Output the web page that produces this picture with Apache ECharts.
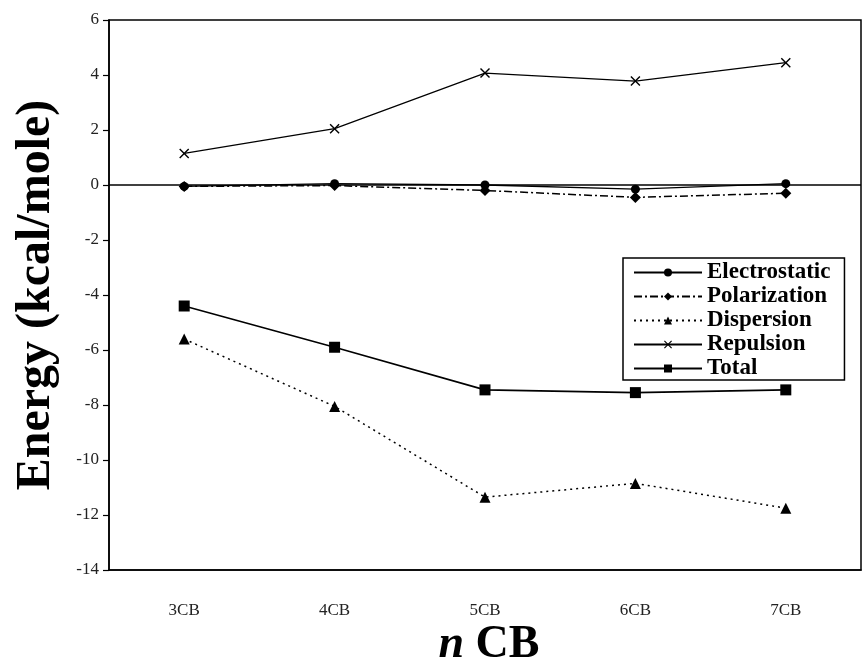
<!DOCTYPE html>
<html>
<head>
<meta charset="utf-8">
<script src="https://cdn.jsdelivr.net/npm/echarts@6/dist/echarts.min.js"></script>
<style>html,body{margin:0;padding:0;background:#fff;}#c{width:863px;height:668px;}</style>
</head>
<body>
<div id="c"></div>
<script>
const categories = ['3CB', '4CB', '5CB', '6CB', '7CB'];
const electrostatic = [-0.05, 0.05, 0.0, -0.15, 0.05];
const polarization = [-0.05, -0.02, -0.2, -0.45, -0.3];
const dispersion = [-5.6, -8.05, -11.35, -10.85, -11.75];
const repulsion = [1.15, 2.05, 4.07, 3.78, 4.45];
const total = [-4.4, -5.9, -7.45, -7.55, -7.45];
const yTicks = { min: -14, max: 6, interval: 2 };

const SERIF = '"Liberation Serif", "DejaVu Serif", serif';
const xPath = 'path://M0,1 L1,0 L5,4 L9,0 L10,1 L6,5 L10,9 L9,10 L5,6 L1,10 L0,9 L4,5 Z';

function mk(name, data, symbol, size, type, width, z) {
  return {
    name, type: 'line', data, symbol, symbolSize: size, z: z,
    showSymbol: true,
    lineStyle: { color: '#000', width: width, type: type },
    itemStyle: { color: '#000' },
    emphasis: { disabled: true },
    animation: false
  };
}

const series = [
  mk('Electrostatic', electrostatic, 'circle', 9, 'solid', 1.5, 6),
  mk('Polarization', polarization, 'diamond', 11, [8, 3, 2, 3], 1.5, 5),
  mk('Dispersion', dispersion, 'triangle', 11, [2, 4], 1.5, 4),
  mk('Repulsion', repulsion, xPath, 10, 'solid', 1.2, 3),
  mk('Total', total, 'rect', 11, 'solid', 1.6, 2)
];
series[0].markLine = {
  silent: true, symbol: ['none', 'none'], label: { show: false },
  lineStyle: { color: '#000', width: 1.5, type: 'solid' },
  data: [{ yAxis: 0 }], animation: false
};

const chart = echarts.init(document.getElementById('c'), null, { renderer: 'canvas' });
chart.setOption({
  backgroundColor: '#fff',
  animation: false,
  grid: { left: 109, right: 2, top: 20, bottom: 98, show: true, borderColor: '#000', borderWidth: 1.5, backgroundColor: '#fff', outerBoundsMode: 'none', containLabel: false },
  legend: {
    orient: 'vertical', left: 623, top: 258,
    backgroundColor: '#fff', borderColor: '#000', borderWidth: 1.5,
    padding: [3, 14, 0, 10], itemGap: 1, itemWidth: 68, itemHeight: 10,
    textStyle: { fontFamily: SERIF, fontWeight: 'bold', fontSize: 23, lineHeight: 22, color: '#000' },
    data: ['Electrostatic', 'Polarization', 'Dispersion', 'Repulsion', 'Total'],
    selectedMode: false
  },
  graphic: [{
    type: 'text', x: 489, y: 645, z: 10,
    style: {
      text: '{i|n}{b| CB}',
      align: 'center', verticalAlign: 'middle',
      rich: {
        i: { fontFamily: SERIF, fontSize: 46, fontStyle: 'italic', fontWeight: 'bold', fill: '#000' },
        b: { fontFamily: SERIF, fontSize: 46, fontWeight: 'bold', fill: '#000' }
      }
    }
  }],
  xAxis: {
    type: 'category', data: categories, boundaryGap: true,
    axisLine: { onZero: false, lineStyle: { color: '#000', width: 1.5 } },
    axisTick: { show: false },
    axisLabel: { fontFamily: SERIF, fontSize: 17, color: '#222', margin: 32 }
  },
  yAxis: {
    type: 'value', min: yTicks.min, max: yTicks.max, interval: yTicks.interval,
    axisLine: { show: true, lineStyle: { color: '#000', width: 1.5 } },
    axisTick: { show: true, inside: false, length: 6, lineStyle: { color: '#000', width: 1.2 } },
    splitLine: { show: false },
    axisLabel: { fontFamily: SERIF, fontSize: 17, color: '#222', margin: 10 },
    name: 'Energy (kcal/mole)', nameLocation: 'middle', nameGap: 48, nameRotate: 90,
    nameTextStyle: { fontFamily: SERIF, fontSize: 48, fontWeight: 'bold', color: '#000' }
  },
  series
});
</script>
</body>
</html>
